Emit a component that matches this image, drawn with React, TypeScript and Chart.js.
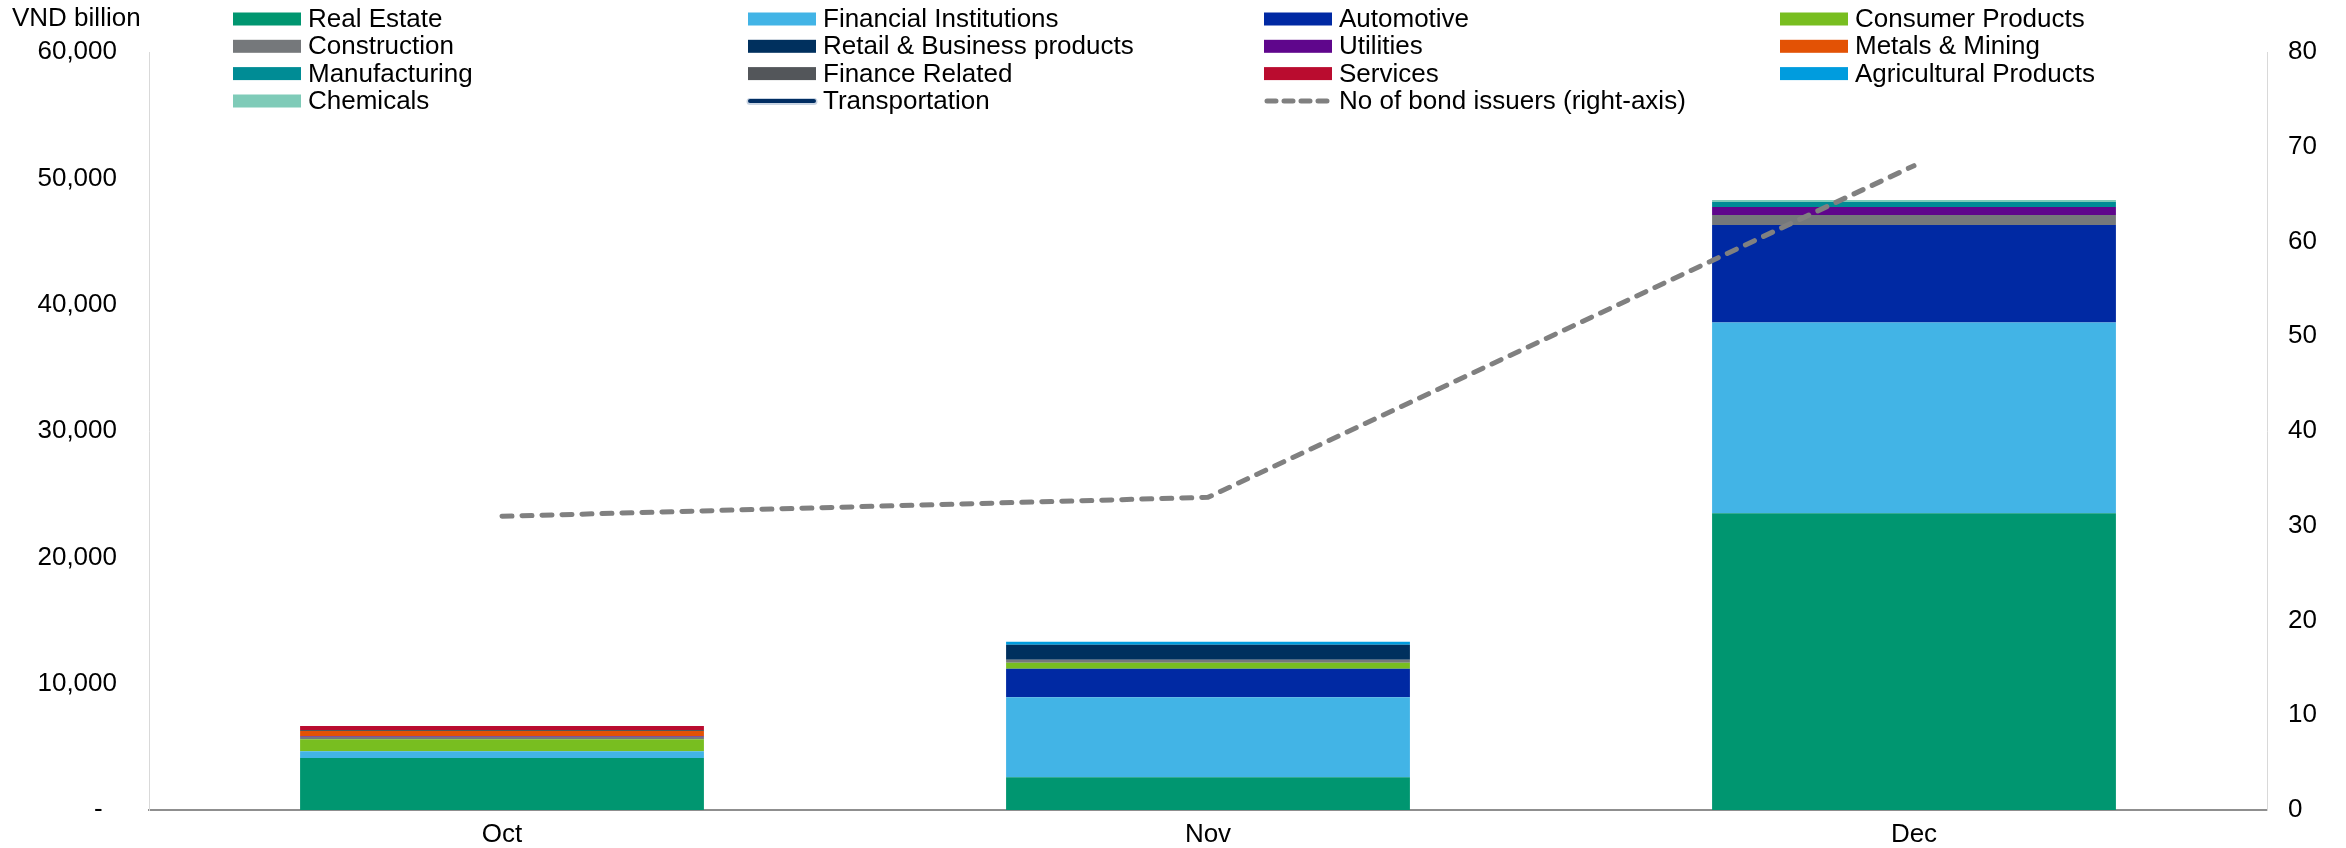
import React, { useEffect, useRef } from "react";
import { Chart, registerables } from "chart.js";

Chart.register(...registerables);

// Monthly corporate bond issuance by sector (VND billion) and number of issuers
const months = ["Oct", "Nov", "Dec"];

const realEstate = [4120, 2590, 23490];
const financialInstitutions = [530, 6330, 15090];
const automotive = [0, 2260, 7730];
const consumerProducts = [950, 475, 0];
const construction = [205, 240, 790];
const retailBusiness = [0, 1190, 0];
const utilities = [50, 0, 630];
const metalsMining = [400, 0, 0];
const manufacturing = [0, 0, 400];
const financeRelated = [80, 0, 0];
const services = [320, 0, 0];
const agriculturalProducts = [0, 240, 0];
const chemicals = [0, 0, 160];
const transportation: (number | null)[] = [null, null, null];
const bondIssuers = [31, 33, 68];

const leftTicks = [0, 10000, 20000, 30000, 40000, 50000, 60000];
const rightTicks = [0, 10, 20, 30, 40, 50, 60, 70, 80];

const FONT = "'Liberation Sans', Arial, Helvetica, sans-serif";
const FONT_SIZE = 26;

const barSeries: { label: string; data: number[]; color: string }[] = [
  { label: "Real Estate", data: realEstate, color: "#009670" },
  { label: "Financial Institutions", data: financialInstitutions, color: "#42B4E6" },
  { label: "Automotive", data: automotive, color: "#0029A3" },
  { label: "Consumer Products", data: consumerProducts, color: "#78BE20" },
  { label: "Construction", data: construction, color: "#75787B" },
  { label: "Retail & Business products", data: retailBusiness, color: "#00305E" },
  { label: "Utilities", data: utilities, color: "#5F068C" },
  { label: "Metals & Mining", data: metalsMining, color: "#E35205" },
  { label: "Manufacturing", data: manufacturing, color: "#008C95" },
  { label: "Finance Related", data: financeRelated, color: "#53565A" },
  { label: "Services", data: services, color: "#BA0C2F" },
  { label: "Agricultural Products", data: agriculturalProducts, color: "#009CDE" },
  { label: "Chemicals", data: chemicals, color: "#7FCBB8" },
];

// Four-column legend drawn across the top of the canvas
const legendPlugin = {
  id: "gridLegend",
  afterDraw(chart: any) {
    const ctx = chart.ctx as CanvasRenderingContext2D;
    const colX = [233, 748, 1264, 1780];
    const rowY = [19, 46.3, 73.6, 101];
    const swW = 68;
    const swH = 13;
    ctx.save();
    ctx.font = `${FONT_SIZE}px ${FONT}`;
    ctx.textBaseline = "middle";
    ctx.textAlign = "left";
    chart.data.datasets.forEach((ds: any, i: number) => {
      const x = colX[i % 4];
      const y = rowY[Math.floor(i / 4)];
      if (ds.type === "line") {
        ctx.save();
        ctx.lineCap = "round";
        if (ds.borderDash && ds.borderDash.length) {
          ctx.setLineDash([9, 8]);
          ctx.lineWidth = 5;
          ctx.strokeStyle = ds.borderColor;
          ctx.beginPath();
          ctx.moveTo(x + 3, y);
          ctx.lineTo(x + swW - 3, y);
          ctx.stroke();
        } else {
          ctx.lineWidth = 7;
          ctx.strokeStyle = "#c9d4e2";
          ctx.beginPath();
          ctx.moveTo(x + 2, y + 0.5);
          ctx.lineTo(x + swW - 2, y + 0.5);
          ctx.stroke();
          ctx.lineWidth = 4;
          ctx.strokeStyle = ds.borderColor;
          ctx.beginPath();
          ctx.moveTo(x + 2, y);
          ctx.lineTo(x + swW - 2, y);
          ctx.stroke();
        }
        ctx.restore();
      } else {
        ctx.fillStyle = ds.backgroundColor;
        ctx.fillRect(x, y - swH / 2, swW, swH);
      }
      ctx.fillStyle = "#000";
      ctx.fillText(ds.label, x + 75, y + 1);
    });
    // Left axis unit
    ctx.fillText("VND billion", 12, 19);
    ctx.restore();
  },
};

export default function App() {
  const canvasRef = useRef<HTMLCanvasElement | null>(null);

  useEffect(() => {
    const canvas = canvasRef.current;
    if (!canvas) return;

    const datasets: any[] = barSeries.map((s) => ({
      type: "bar",
      label: s.label,
      data: s.data,
      backgroundColor: s.color,
      borderWidth: 0,
      yAxisID: "y",
      stack: "sectors",
      categoryPercentage: 1,
      barPercentage: 0.572,
      order: 2,
    }));
    datasets.push({
      type: "line",
      label: "Transportation",
      data: transportation,
      borderColor: "#002D62",
      backgroundColor: "#002D62",
      borderWidth: 4,
      pointRadius: 0,
      yAxisID: "y1",
      order: 1,
    });
    datasets.push({
      type: "line",
      label: "No of bond issuers (right-axis)",
      data: bondIssuers,
      borderColor: "#808080",
      backgroundColor: "#808080",
      borderWidth: 5,
      borderDash: [10, 10],
      borderCapStyle: "round",
      pointRadius: 0,
      tension: 0,
      yAxisID: "y1",
      order: 0,
    });

    // Keep the vertical scales from reserving extra room above/below the plot
    const fixVertical = (width: number) => (scale: any) => {
      scale.width = width;
      scale.paddingTop = 0;
      scale.paddingBottom = 0;
    };

    const chart = new Chart(canvas, {
      type: "bar",
      data: { labels: months, datasets },
      options: {
        responsive: false,
        animation: false,
        devicePixelRatio: 1,
        layout: { padding: { top: 52, left: 0, right: 0, bottom: 0 } },
        plugins: {
          legend: { display: false },
          tooltip: { enabled: false },
          title: { display: false },
        },
        scales: {
          x: {
            stacked: true,
            grid: { display: false, drawTicks: false },
            border: { display: true, color: "#8f8f8f", width: 2 },
            ticks: {
              color: "#000",
              padding: 9,
              font: { family: FONT, size: FONT_SIZE },
            },
            afterFit(scale: any) {
              scale.height = 38;
              scale.paddingLeft = 0;
              scale.paddingRight = 0;
            },
          },
          y: {
            position: "left",
            stacked: true,
            min: 0,
            max: 60000,
            afterBuildTicks(scale: any) {
              scale.ticks = leftTicks.map((v) => ({ value: v }));
            },
            grid: { display: false, drawTicks: false },
            border: { display: true, color: "#d9d9d9", width: 1 },
            ticks: {
              color: "#000",
              padding: 32,
              font: { family: FONT, size: FONT_SIZE },
              callback: (v: any) =>
                Number(v) === 0 ? "-  " : Number(v).toLocaleString("en-US"),
            },
            afterFit: fixVertical(149),
          },
          y1: {
            position: "right",
            stacked: false,
            min: 0,
            max: 80,
            afterBuildTicks(scale: any) {
              scale.ticks = rightTicks.map((v) => ({ value: v }));
            },
            grid: { display: false, drawTicks: false },
            border: { display: true, color: "#d9d9d9", width: 1 },
            ticks: {
              color: "#000",
              padding: 21,
              font: { family: FONT, size: FONT_SIZE },
            },
            afterFit: fixVertical(79),
          },
        },
      },
      plugins: [legendPlugin],
    });

    return () => chart.destroy();
  }, []);

  return (
    <div style={{ position: "absolute", left: 0, top: 0, width: 2346, height: 848, background: "#fff" }}>
      <canvas ref={canvasRef} width={2346} height={848} />
    </div>
  );
}
